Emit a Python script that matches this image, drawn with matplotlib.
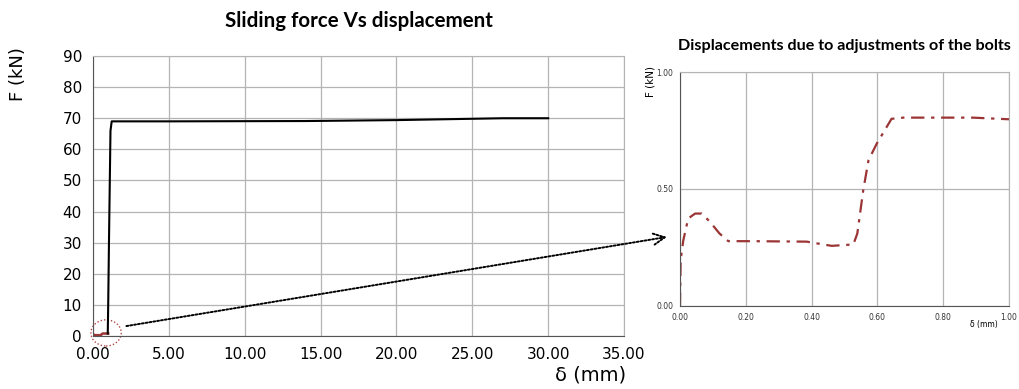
import matplotlib.pyplot as plt
from matplotlib.patches import Ellipse, ConnectionPatch

# main curve (slip test), mm / kN
main_x = [0.97, 1.00, 1.05, 1.15, 1.23, 5.0, 14.0, 20.0, 27.0, 30.0]
main_y = [0.8, 10.0, 30.0, 66.0, 69.0, 69.0, 69.1, 69.4, 70.0, 70.0]

# initial bolt adjustment part, mm / kN
adj_x = [0.0, 0.002, 0.01, 0.025, 0.046, 0.066, 0.091, 0.12, 0.147, 0.22,
         0.385, 0.461, 0.527, 0.539, 0.557, 0.573, 0.598, 0.643, 0.679, 0.89, 1.0]
adj_y = [0.0, 0.196, 0.28, 0.374, 0.395, 0.395, 0.36, 0.31, 0.277, 0.277,
         0.275, 0.257, 0.263, 0.31, 0.495, 0.623, 0.694, 0.80, 0.805, 0.805, 0.798]

main_xticks = [0, 5, 10, 15, 20, 25, 30, 35]
main_yticks = [0, 10, 20, 30, 40, 50, 60, 70, 80, 90]
inset_xticks = [0.0, 0.2, 0.4, 0.6, 0.8, 1.0]
inset_yticks = [0.0, 0.5, 1.0]

red = "#9b3535"
grid_c = "#b4b4b4"

fig = plt.figure(figsize=(10.19, 3.89), dpi=100)

# ---- main chart
ax = fig.add_axes([0.0913, 0.1362, 0.5211, 0.7198])
ax.plot(adj_x, adj_y, color=red, lw=1.8)
ax.plot(main_x, main_y, color="black", lw=1.5)
ax.set_xlim(0, 35)
ax.set_ylim(0, 90)
ax.set_xticks(main_xticks)
ax.set_yticks(main_yticks)
ax.set_xticklabels([f"{v:.2f}" for v in main_xticks])
ax.grid(True, color=grid_c, lw=0.9)
ax.set_axisbelow(True)
ax.tick_params(length=0, labelsize=11, pad=8)
for s in ["top", "right"]:
    ax.spines[s].set_color(grid_c)
for s in ["left", "bottom"]:
    ax.spines[s].set_color("#555555")
ax.set_title("Sliding force Vs displacement", fontsize=14.8, fontweight="bold",
             family="Lato", pad=21)
fig.text(0.018, 0.81, "F (kN)", rotation=90, fontsize=13, ha="center", va="center")
fig.text(0.58, 0.035, "δ (mm)", fontsize=14, ha="center", va="center")

circ = Ellipse((0.86, 1.0), 2.0, 8.4, fill=False, ls=(0, (1, 1.5)), ec="#b04848",
               lw=1.0, clip_on=False)
ax.add_patch(circ)

# ---- zoom on the adjustment part
ax2 = fig.add_axes([0.6673, 0.2134, 0.3229, 0.6015])
ax2.plot(adj_x, adj_y, color=red, lw=1.6, ls=(0, (6, 3, 1.5, 3)))
ax2.set_xlim(0, 1)
ax2.set_ylim(0, 1)
ax2.set_xticks(inset_xticks)
ax2.set_yticks(inset_yticks)
ax2.set_xticklabels([f"{v:.2f}" for v in inset_xticks])
ax2.set_yticklabels([f"{v:.2f}" for v in inset_yticks])
ax2.grid(True, color=grid_c, lw=0.9)
ax2.set_axisbelow(True)
ax2.tick_params(length=0, labelsize=5.5, pad=5, colors="#333333")
for s in ["top", "right"]:
    ax2.spines[s].set_color(grid_c)
for s in ["left", "bottom"]:
    ax2.spines[s].set_color("#555555")
ax2.set_title("Displacements due to adjustments of the bolts", fontsize=11.6,
              fontweight="bold", family="Lato", pad=16)
fig.text(0.638, 0.79, "F (kN)", rotation=90, fontsize=7.5, ha="center", va="center")
fig.text(0.966, 0.165, "δ (mm)", fontsize=5.5, ha="center", va="center")

arrow = ConnectionPatch(xyA=(2.2, 3.2), coordsA=ax.transData,
                        xyB=(-0.04, 0.295), coordsB=ax2.transData,
                        arrowstyle="->,head_length=0.8,head_width=0.4",
                        ls=(0, (1, 1)), lw=1.4, color="black")
fig.add_artist(arrow)

fig.savefig("out.png", dpi=100)
